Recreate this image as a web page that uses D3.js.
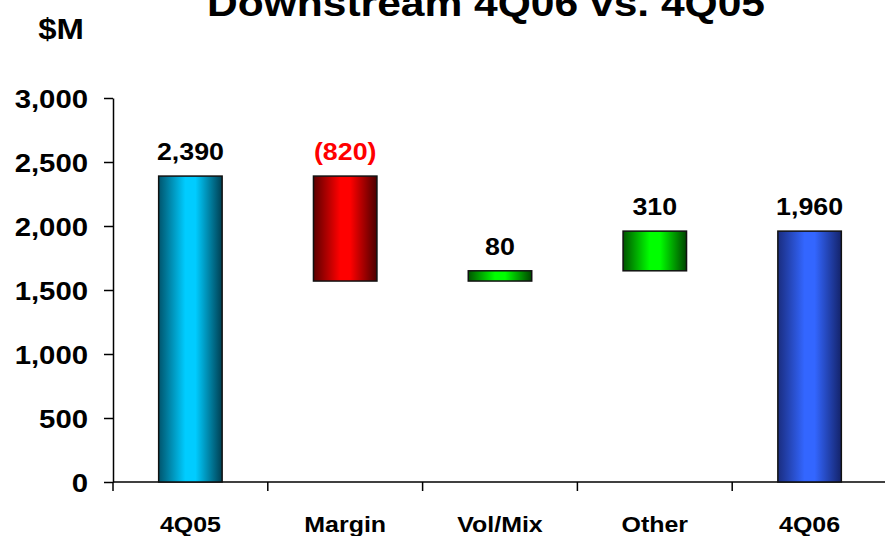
<!DOCTYPE html>
<html>
  <head>
    <meta charset="utf-8">
    <style>
      body { margin: 0; background: #fff; }
      svg text { font-family: "Liberation Sans", Arial, sans-serif; font-weight: bold; }
      .axis path, .axis line { stroke: #000; stroke-width: 1.5px; }
    </style>
  </head>
  <body>
    <svg width="885" height="536"></svg>
    <script src="https://d3js.org/d3.v7.min.js"></script>
    <script>
      // data
      var categories = ["4Q05", "Margin", "Vol/Mix", "Other", "4Q06"];
      var deltas = [2390, -820, 80, 310, 1960];
      var kinds = ["total", "step", "step", "step", "total"];
      var valueLabels = ["2,390", "(820)", "80", "310", "1,960"];
      var yTicks = [0, 500, 1000, 1500, 2000, 2500, 3000];

      var svg = d3.select("svg");
      var sx = 1.15; // the slide was stretched sideways

      var x = d3.scaleBand()
        .domain(categories)
        .range([113, 887])
        .paddingInner(0.59)
        .paddingOuter(0.295);

      var y = d3.scaleLinear()
        .domain([0, 3000])
        .range([482, 98]);

      // waterfall bases
      var run = 0;
      var bars = categories.map(function(c, i) {
        var lo, hi;
        if (kinds[i] === "total") { lo = 0; hi = deltas[i]; run = deltas[i]; }
        else { lo = run; hi = run + deltas[i]; run = hi; }
        return { cat: c, lo: Math.min(lo, hi), hi: Math.max(lo, hi), top: Math.max(lo, hi), label: valueLabels[i], neg: deltas[i] < 0, i: i };
      });

      var grads = [
        { id: "g0", dark: "#00556e", light: "#00ccff", darkR: "#003f52" },
        { id: "g1", dark: "#5c0000", light: "#ff0000", darkR: "#4a0000" },
        { id: "g2", dark: "#005500", light: "#00ff00", darkR: "#004400" },
        { id: "g3", dark: "#005500", light: "#00ff00", darkR: "#004400" },
        { id: "g4", dark: "#1a2d80", light: "#3366ff", darkR: "#14236a" }
      ];

      var defs = svg.append("defs");
      grads.forEach(function(g) {
        var lg = defs.append("linearGradient").attr("id", g.id)
          .attr("x1", "0%").attr("x2", "100%").attr("y1", "0%").attr("y2", "0%");
        lg.append("stop").attr("offset", "0%").attr("stop-color", g.dark);
        lg.append("stop").attr("offset", "42%").attr("stop-color", g.light);
        lg.append("stop").attr("offset", "58%").attr("stop-color", g.light);
        lg.append("stop").attr("offset", "100%").attr("stop-color", g.darkR);
      });

      // y axis
      var yAxis = svg.append("g")
        .attr("class", "axis")
        .attr("transform", "translate(113,0)")
        .call(d3.axisLeft(y).tickValues(yTicks).tickFormat(d3.format(",")).tickSize(9).tickSizeOuter(0));
      yAxis.selectAll("text")
        .attr("fill", "#000")
        .style("font-size", "25.5px")
        .attr("x", -25 / sx)
        .attr("dy", "0.36em")
        .attr("transform", "scale(" + sx + ",1)");

      // x axis: labels centred, ticks at band edges
      var xAxis = svg.append("g")
        .attr("class", "axis")
        .attr("transform", "translate(0,482)");
      xAxis.append("line")
        .attr("x1", 113).attr("x2", 885).attr("y1", 0).attr("y2", 0);
      xAxis.selectAll(".edge")
        .data(categories)
        .enter().append("line")
        .attr("class", "edge")
        .attr("x1", function(d) { return x(d) - x.step() * x.paddingOuter(); })
        .attr("x2", function(d) { return x(d) - x.step() * x.paddingOuter(); })
        .attr("y1", 0).attr("y2", 9);

      var xLab = svg.append("g")
        .attr("transform", "translate(0,482)")
        .call(d3.axisBottom(x).tickSize(0));
      xLab.select(".domain").remove();
      xLab.selectAll("text")
        .attr("fill", "#000")
        .style("font-size", "21.7px")
        .attr("y", 50)
        .attr("dy", 0)
        .attr("x", 0)
        .attr("transform", "scale(" + sx + ",1)");

      // bars
      svg.append("g").selectAll("rect")
        .data(bars)
        .enter().append("rect")
        .attr("x", function(d) { return x(d.cat); })
        .attr("width", x.bandwidth())
        .attr("y", function(d) { return y(d.hi); })
        .attr("height", function(d) { return y(d.lo) - y(d.hi); })
        .attr("fill", function(d) { return "url(#g" + d.i + ")"; })
        .attr("stroke", "#111")
        .attr("stroke-width", 1.5);

      // value labels
      svg.append("g").selectAll("text")
        .data(bars)
        .enter().append("text")
        .attr("transform", function(d) {
          return "translate(" + (x(d.cat) + x.bandwidth() / 2) + "," + (y(d.top) - 16) + ") scale(" + sx + ",1)";
        })
        .attr("text-anchor", "middle")
        .style("font-size", "23.3px")
        .attr("fill", function(d) { return d.neg ? "#ff0000" : "#000"; })
        .text(function(d) { return d.label; });

      // title and unit
      svg.append("text")
        .attr("transform", "translate(486,16) scale(" + sx + ",1)")
        .attr("text-anchor", "middle")
        .style("font-size", "37px")
        .text("Downstream 4Q06 vs. 4Q05");

      svg.append("text")
        .attr("transform", "translate(61,39) scale(" + sx + ",1)")
        .attr("text-anchor", "middle")
        .style("font-size", "28.6px")
        .text("$M");
    </script>
  </body>
</html>
